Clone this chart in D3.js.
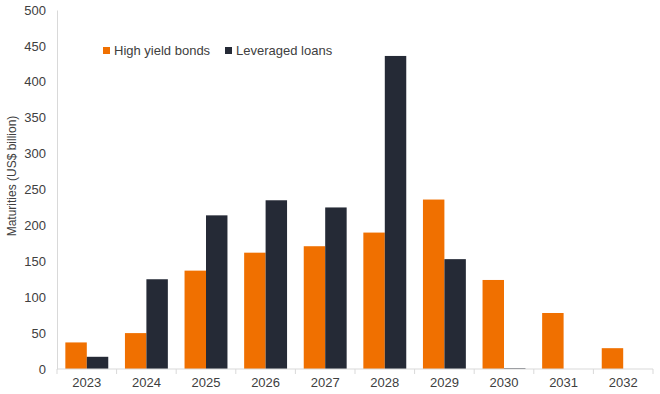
<!DOCTYPE html>
<html>
<head>
<meta charset="utf-8">
<script src="https://cdn.jsdelivr.net/npm/d3@7"></script>
<style>
  body { margin: 0; background: #fff; }
  text { font-family: "Liberation Sans", Arial, sans-serif; fill: #404040; }
</style>
</head>
<body>
<svg id="chart" width="660" height="394"></svg>
<script>
var years = ["2023", "2024", "2025", "2026", "2027", "2028", "2029", "2030", "2031", "2032"];
var highYield = [37, 50, 137, 162, 171, 190, 236, 124, 78, 29];
var levLoans = [17, 125, 214, 235, 225, 436, 153, 1, 0, 0];
var seriesNames = ["High yield bonds", "Leveraged loans"];
var colors = ["#f07000", "#252a36"];
var yTicks = [0, 50, 100, 150, 200, 250, 300, 350, 400, 450, 500];

var svg = d3.select("#chart");
var margin = {l: 57, r: 7, t: 10, b: 25};
var width = 660 - margin.l - margin.r,
  height = 394 - margin.t - margin.b;

var plot = svg.append("g").attr("transform", "translate(" + margin.l + "," + margin.t + ")");

var x = d3.scaleBand().domain(years).range([0, width]).paddingInner(0).paddingOuter(0);
var inner = d3.scaleBand().domain([0, 1]).range([x.bandwidth() * 0.14, x.bandwidth() * 0.86]);
var y = d3.scaleLinear().domain([0, 500]).range([height, 0]);

// y axis: line + labels only
var yAxis = plot.append("g").call(d3.axisLeft(y).tickValues(yTicks).tickSize(0).tickPadding(11));
yAxis.select(".domain").attr("stroke", "#d9d9d9");
yAxis.selectAll("text").style("font-size", "13px").attr("fill", "#404040");

var rows = years.map(function(d, i) { return {year: d, vals: [highYield[i], levLoans[i]]}; });

plot.selectAll(".year").data(rows).enter()
  .append("g")
  .attr("class", "year")
  .attr("transform", function(d) { return "translate(" + x(d.year) + ",0)"; })
  .selectAll("rect").data(function(d) { return d.vals; }).enter()
  .append("rect")
  .attr("x", function(_, i) { return inner(i); })
  .attr("width", inner.bandwidth())
  .attr("y", function(v) { return y(v); })
  .attr("height", function(v) { return height - y(v); })
  .attr("fill", function(_, i) { return colors[i]; });

// x axis with ticks at band boundaries
var xg = plot.append("g").attr("transform", "translate(0," + height + ")");
xg.append("line").attr("x1", 0).attr("x2", width).attr("stroke", "#d9d9d9");
var bounds = years.map(function(d) { return x(d); }).concat([width]);
xg.selectAll(".tk").data(bounds).enter().append("line")
  .attr("x1", function(d) { return d; }).attr("x2", function(d) { return d; })
  .attr("y1", 0).attr("y2", 5).attr("stroke", "#d9d9d9");
xg.selectAll(".lbl").data(years).enter().append("text")
  .attr("x", function(d) { return x(d) + x.bandwidth() / 2; })
  .attr("y", 18)
  .attr("text-anchor", "middle")
  .style("font-size", "13px")
  .text(function(d) { return d; });

// y title
svg.append("text")
  .attr("transform", "translate(16,176) rotate(-90)")
  .attr("text-anchor", "middle")
  .style("font-size", "12px")
  .text("Maturities (US$ billion)");

// legend
var legendX = [103, 225];
var legend = svg.selectAll(".leg").data(seriesNames).enter().append("g")
  .attr("transform", function(_, i) { return "translate(" + legendX[i] + ",47)"; });
legend.append("rect").attr("width", 7).attr("height", 7).attr("fill", function(_, i) { return colors[i]; });
legend.append("text").attr("x", 11).attr("y", 8).style("font-size", "13px").text(function(d) { return d; });
</script>
</body>
</html>
